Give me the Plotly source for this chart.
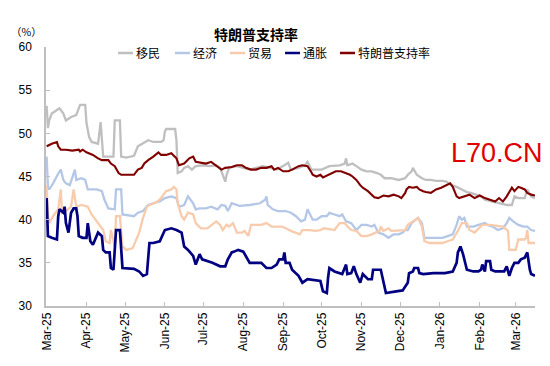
import plotly.graph_objects as go

# ---------------- data ----------------
imm_dates = ["2025-03-01","2025-03-02","2025-03-03","2025-03-05","2025-03-09","2025-03-11","2025-03-14","2025-03-16",
             "2025-03-20","2025-03-24","2025-03-27","2025-03-31","2025-04-01","2025-04-03","2025-04-05","2025-04-10",
             "2025-04-12","2025-04-13","2025-04-14","2025-04-22","2025-04-23","2025-04-27","2025-04-28","2025-05-02",
             "2025-05-08","2025-05-11","2025-05-14","2025-05-19","2025-05-23","2025-05-29","2025-05-31","2025-06-01",
             "2025-06-02","2025-06-09","2025-06-10","2025-06-11","2025-06-14","2025-06-16","2025-06-19","2025-06-22",
             "2025-06-25","2025-07-01","2025-07-06","2025-07-11","2025-07-14","2025-07-16","2025-07-18","2025-07-19",
             "2025-07-21","2025-07-27","2025-08-01","2025-08-06","2025-08-11","2025-08-16","2025-08-22","2025-08-27",
             "2025-09-02","2025-09-05","2025-09-07","2025-09-13","2025-09-18","2025-09-20","2025-09-23","2025-09-26",
             "2025-10-01","2025-10-07","2025-10-15","2025-10-19","2025-10-20","2025-10-21","2025-10-25","2025-10-28",
             "2025-11-01","2025-11-05","2025-11-09","2025-11-13","2025-11-16","2025-11-19","2025-11-24","2025-11-30",
             "2025-12-05","2025-12-07","2025-12-10","2025-12-11","2025-12-14","2025-12-18","2025-12-21","2025-12-25",
             "2025-12-29","2026-01-03","2026-01-06","2026-01-10","2026-01-14","2026-01-18","2026-01-22","2026-01-25",
             "2026-01-29","2026-02-02","2026-02-05","2026-02-10","2026-02-14","2026-02-18","2026-02-22","2026-02-26",
             "2026-02-28","2026-03-03","2026-03-08","2026-03-10","2026-03-13","2026-03-16"]
imm_vals = [53.2,50.6,51.5,52.3,52.7,52.9,52.3,51.5,
            51.9,52.1,53.3,53.3,51.2,49.6,49.0,48.8,
            51.3,48.8,47.3,47.3,51.5,51.5,47.3,47.2,
            47.4,48.5,48.8,49.2,49.0,49.0,49.2,50.2,
            50.5,50.5,49.2,45.4,45.6,46.0,46.2,45.8,
            46.2,46.3,46.2,46.3,46.0,45.2,44.4,45.2,
            46.0,46.2,46.0,45.8,46.0,46.2,46.0,45.8,
            46.3,46.6,45.8,46.0,46.3,46.7,45.8,45.8,
            45.8,46.2,46.3,46.5,47.1,46.3,46.5,46.2,
            45.8,45.6,45.6,45.4,45.2,44.8,44.8,44.6,
            44.8,45.2,45.6,46.0,45.2,44.8,44.6,44.6,
            44.5,44.5,44.4,44.0,43.8,43.5,43.2,43.1,
            42.9,42.7,42.3,42.1,42.0,41.8,41.7,41.7,
            42.7,42.5,42.5,43.5,42.7,42.5]

eco_dates = ["2025-03-01","2025-03-02","2025-03-03","2025-03-06","2025-03-11","2025-03-12","2025-03-14","2025-03-16",
             "2025-03-19","2025-03-21","2025-03-23","2025-03-24","2025-03-28","2025-03-31","2025-04-02","2025-04-09",
             "2025-04-13","2025-04-15","2025-04-18","2025-04-23","2025-04-24","2025-04-28","2025-04-29","2025-05-08",
             "2025-05-11","2025-05-15","2025-05-19","2025-05-23","2025-05-28","2025-06-01","2025-06-06","2025-06-10",
             "2025-06-12","2025-06-16","2025-06-19","2025-06-23","2025-06-25","2025-06-28","2025-07-03","2025-07-07",
             "2025-07-12","2025-07-15","2025-07-18","2025-07-20","2025-07-23","2025-07-29","2025-08-06","2025-08-14",
             "2025-08-18","2025-08-19","2025-08-20","2025-08-24","2025-08-28","2025-09-03","2025-09-07","2025-09-11",
             "2025-09-15","2025-09-18","2025-09-20","2025-09-22","2025-09-24","2025-09-27","2025-10-01","2025-10-05",
             "2025-10-07","2025-10-11","2025-10-15","2025-10-17","2025-10-20","2025-10-24","2025-10-28","2025-11-01",
             "2025-11-05","2025-11-09","2025-11-11","2025-11-14","2025-11-18","2025-11-22","2025-11-26","2025-11-30",
             "2025-12-03","2025-12-05","2025-12-07","2025-12-10","2025-12-12","2025-12-15","2025-12-18","2025-12-20",
             "2025-12-29","2026-01-03","2026-01-07","2026-01-11","2026-01-14","2026-01-16","2026-01-18","2026-01-20",
             "2026-01-22","2026-01-27","2026-01-31","2026-02-05","2026-02-07","2026-02-11","2026-02-15","2026-02-19",
             "2026-02-22","2026-02-24","2026-02-27","2026-03-03","2026-03-07","2026-03-10","2026-03-13","2026-03-16"]
eco_vals = [47.3,43.8,43.5,44.2,45.6,45.8,44.6,44.2,
            44.0,44.8,45.8,44.6,44.8,44.6,43.5,43.5,
            43.3,42.3,41.3,41.2,43.5,43.5,40.6,40.4,
            40.8,41.0,41.7,41.9,42.1,42.5,42.7,42.5,
            41.5,41.7,42.7,41.9,41.2,41.3,41.3,41.5,
            41.2,41.7,41.6,41.0,41.9,41.6,41.7,41.9,
            42.3,42.7,41.7,41.2,41.0,41.0,40.8,40.4,
            39.8,40.0,41.2,40.6,40.0,40.0,40.4,40.4,
            40.8,40.6,40.4,40.6,39.8,39.6,38.8,39.4,
            39.4,39.2,39.4,38.5,38.3,37.9,38.3,38.3,
            38.5,38.8,38.8,39.6,39.8,40.2,39.6,37.9,
            37.9,37.9,38.1,38.3,39.4,40.4,40.0,40.2,
            39.2,39.2,39.4,39.6,39.4,39.2,38.8,39.0,
            39.6,40.2,39.8,39.4,39.2,39.2,38.8,38.7]

trade_dates = ["2025-03-01","2025-03-02","2025-03-03","2025-03-06","2025-03-10","2025-03-12","2025-03-13","2025-03-16",
               "2025-03-20","2025-03-22","2025-03-24","2025-03-28","2025-04-02","2025-04-05","2025-04-10","2025-04-14",
               "2025-04-16","2025-04-19","2025-04-20","2025-04-23","2025-04-24","2025-04-27","2025-04-29","2025-05-02",
               "2025-05-07","2025-05-10","2025-05-12","2025-05-15","2025-05-18","2025-05-20","2025-05-24","2025-05-28",
               "2025-05-31","2025-06-02","2025-06-06","2025-06-08","2025-06-10","2025-06-11","2025-06-14","2025-06-16",
               "2025-06-19","2025-06-23","2025-06-25","2025-06-29","2025-07-04","2025-07-08","2025-07-11","2025-07-14",
               "2025-07-16","2025-07-19","2025-07-21","2025-07-24","2025-07-27","2025-07-31","2025-08-02","2025-08-05",
               "2025-08-07","2025-08-15","2025-08-19","2025-08-23","2025-08-31","2025-09-03","2025-09-07","2025-09-14",
               "2025-09-16","2025-09-22","2025-09-26","2025-09-30","2025-10-03","2025-10-07","2025-10-11","2025-10-15",
               "2025-10-19","2025-10-21","2025-10-24","2025-10-28","2025-11-01","2025-11-05","2025-11-09","2025-11-15",
               "2025-11-16","2025-11-18","2025-11-22","2025-11-24","2025-11-30","2025-12-05","2025-12-07","2025-12-11",
               "2025-12-15","2025-12-18","2025-12-20","2025-12-24","2026-01-03","2026-01-07","2026-01-11","2026-01-15",
               "2026-01-18","2026-01-22","2026-01-24","2026-01-28","2026-02-03","2026-02-09","2026-02-14","2026-02-19",
               "2026-02-23","2026-02-24","2026-03-01","2026-03-03","2026-03-08","2026-03-09","2026-03-10","2026-03-11",
               "2026-03-16"]
trade_vals = [44.0,40.4,39.6,40.4,41.2,43.5,40.8,41.0,
              41.5,43.5,41.5,41.7,41.5,40.6,39.6,38.8,
              37.5,37.3,38.8,36.9,40.4,40.4,36.9,36.5,
              36.7,37.7,38.5,40.2,41.5,41.7,41.9,42.3,
              42.9,43.3,43.5,43.8,43.5,41.9,40.4,40.0,
              40.8,40.6,39.6,39.0,39.0,39.4,39.8,39.4,
              38.8,39.4,39.2,39.6,38.5,38.5,38.7,38.1,
              39.4,39.4,39.6,39.2,39.2,39.0,38.7,38.3,
              38.8,38.8,38.7,38.8,39.0,38.9,38.8,39.6,
              39.6,39.2,38.8,38.7,38.1,38.1,38.3,38.7,
              39.2,38.7,39.0,38.7,38.8,38.8,39.4,39.8,
              40.2,39.2,37.5,37.3,37.3,37.5,37.7,38.7,
              39.6,39.6,38.8,38.5,39.4,39.4,39.3,39.2,
              38.7,36.5,36.5,37.7,37.7,37.9,38.8,37.3,
              37.3]

inf_dates = ["2025-03-01","2025-03-02","2025-03-05","2025-03-09","2025-03-10","2025-03-11","2025-03-14","2025-03-15",
             "2025-03-16","2025-03-18","2025-03-20","2025-03-22","2025-03-24","2025-03-25","2025-03-26","2025-03-29",
             "2025-04-01","2025-04-02","2025-04-04","2025-04-06","2025-04-10","2025-04-13","2025-04-14","2025-04-16",
             "2025-04-19","2025-04-20","2025-04-22","2025-04-23","2025-04-24","2025-04-27","2025-04-28","2025-04-29",
             "2025-05-08","2025-05-12","2025-05-15","2025-05-18","2025-05-20","2025-05-23","2025-05-28","2025-05-31",
             "2025-06-01","2025-06-06","2025-06-10","2025-06-14","2025-06-16","2025-06-19","2025-06-23","2025-06-25",
             "2025-06-28","2025-06-30","2025-07-04","2025-07-08","2025-07-14","2025-07-18","2025-07-20","2025-07-23",
             "2025-07-25","2025-07-28","2025-08-01","2025-08-03","2025-08-06","2025-08-15","2025-08-19","2025-08-23",
             "2025-08-27","2025-08-29","2025-09-01","2025-09-02","2025-09-03","2025-09-06","2025-09-08","2025-09-13",
             "2025-09-16","2025-09-20","2025-09-30","2025-10-02","2025-10-05","2025-10-06","2025-10-07","2025-10-11",
             "2025-10-15","2025-10-17","2025-10-20","2025-10-21","2025-10-24","2025-10-26","2025-10-28","2025-10-31",
             "2025-11-02","2025-11-06","2025-11-09","2025-11-10","2025-11-16","2025-11-18","2025-11-20","2025-11-28",
             "2025-12-03","2025-12-07","2025-12-08","2025-12-11","2025-12-12","2025-12-15","2025-12-16","2025-12-19",
             "2025-12-27","2026-01-05","2026-01-11","2026-01-14","2026-01-15","2026-01-17","2026-01-19","2026-01-22",
             "2026-01-27","2026-01-31","2026-02-02","2026-02-03","2026-02-05","2026-02-06","2026-02-09","2026-02-10",
             "2026-02-13","2026-02-16","2026-02-20","2026-02-22","2026-02-24","2026-02-26","2026-02-28","2026-03-03",
             "2026-03-05","2026-03-08","2026-03-10","2026-03-12","2026-03-13","2026-03-16"]
inf_vals = [42.5,38.1,37.9,37.7,40.4,41.2,40.8,41.5,
            39.6,38.5,40.8,41.3,41.3,40.4,38.1,37.9,
            37.9,39.6,37.5,37.1,38.5,38.1,36.5,36.2,
            36.2,34.4,34.2,37.3,38.8,38.8,36.2,34.4,
            34.3,34.0,33.5,33.7,37.3,37.3,37.5,38.5,
            38.8,39.0,38.8,38.5,36.9,36.5,35.8,34.8,
            36.0,35.4,35.2,35.0,34.6,34.6,35.4,36.2,
            36.3,36.5,36.3,35.8,35.0,35.0,34.4,34.4,
            34.8,35.4,35.4,36.2,35.0,35.0,34.2,33.5,
            32.7,33.1,32.9,31.7,31.5,33.3,34.4,34.0,
            33.8,33.7,34.8,33.7,33.8,34.6,33.7,32.7,
            33.7,33.1,33.1,34.2,34.2,32.7,31.5,31.7,
            31.8,32.7,33.8,34.0,34.4,34.4,33.8,33.7,
            33.8,33.8,34.0,35.0,36.2,36.9,36.0,34.2,
            34.0,34.0,34.2,34.8,34.0,35.2,35.2,34.2,
            34.0,34.0,34.0,34.6,33.5,34.4,35.0,35.0,
            35.4,35.6,36.2,34.2,33.7,33.5]

app_dates = ["2025-03-01","2025-03-03","2025-03-05","2025-03-09","2025-03-10","2025-03-12","2025-03-16","2025-03-21",
             "2025-03-26","2025-03-27","2025-03-29","2025-04-01","2025-04-06","2025-04-10","2025-04-13","2025-04-18",
             "2025-04-20","2025-04-23","2025-04-26","2025-04-28","2025-05-08","2025-05-11","2025-05-14","2025-05-16",
             "2025-05-19","2025-05-23","2025-05-27","2025-05-29","2025-06-02","2025-06-06","2025-06-10","2025-06-12",
             "2025-06-16","2025-06-20","2025-06-23","2025-06-25","2025-06-29","2025-07-03","2025-07-07","2025-07-11",
             "2025-07-15","2025-07-18","2025-07-23","2025-07-27","2025-07-31","2025-08-03","2025-08-07","2025-08-11",
             "2025-08-15","2025-08-19","2025-08-23","2025-08-25","2025-08-28","2025-09-01","2025-09-05","2025-09-08",
             "2025-09-13","2025-09-16","2025-09-20","2025-09-23","2025-09-24","2025-09-27","2025-09-30","2025-10-02",
             "2025-10-06","2025-10-09","2025-10-12","2025-10-16","2025-10-20","2025-10-23","2025-10-25","2025-10-28",
             "2025-10-31","2025-11-02","2025-11-06","2025-11-09","2025-11-11","2025-11-14","2025-11-18","2025-11-22",
             "2025-11-26","2025-11-30","2025-12-02","2025-12-05","2025-12-06","2025-12-08","2025-12-11","2025-12-14",
             "2025-12-16","2025-12-19","2025-12-21","2025-12-25","2025-12-29","2026-01-02","2026-01-06","2026-01-09",
             "2026-01-11","2026-01-14","2026-01-16","2026-01-20","2026-01-24","2026-01-28","2026-02-01","2026-02-05",
             "2026-02-09","2026-02-13","2026-02-16","2026-02-19","2026-02-22","2026-02-26","2026-02-28","2026-03-03",
             "2026-03-05","2026-03-08","2026-03-10","2026-03-13","2026-03-16"]
app_vals = [48.5,48.7,48.8,49.0,48.5,48.1,48.1,48.0,
            48.1,47.9,48.1,47.8,47.5,47.1,46.9,46.9,
            46.5,46.2,45.4,45.2,45.2,45.8,46.0,46.5,
            46.9,47.3,47.8,47.5,47.5,47.7,47.1,46.3,
            46.5,47.1,47.3,46.7,46.6,46.5,46.7,46.3,
            45.8,46.0,46.1,46.3,46.3,46.0,45.8,45.8,
            46.0,46.0,46.2,45.8,46.0,45.6,45.6,45.8,
            46.2,46.3,46.2,45.5,45.2,45.0,45.2,44.9,
            45.2,45.4,45.6,45.6,45.4,45.2,45.0,44.6,
            44.0,43.7,43.3,42.9,42.6,42.5,42.8,42.7,
            42.9,42.7,42.5,43.1,43.5,43.8,43.7,43.8,
            43.5,43.3,43.2,43.1,43.5,43.7,44.0,44.2,
            43.8,42.7,42.5,42.7,42.9,42.5,42.8,42.5,
            42.3,42.1,42.5,42.1,42.7,43.7,43.3,43.8,
            43.7,43.5,43.1,42.9,42.8]

series_names = ["移民", "经济", "贸易", "通胀", "特朗普支持率"]
y_ticks = [30, 35, 40, 45, 50, 55, 60]

# ---------------- figure ----------------
# The page body has an 8px default margin, so the figure is drawn 8px smaller
# and all positions below are expressed relative to the plotting area.
FONT = "Liberation Sans, Arial, Noto Sans CJK SC, sans-serif"
CJK = "Noto Sans CJK SC, sans-serif"
series = [
    (series_names[0], imm_dates, imm_vals, "#BFBFBF", 2.3),
    (series_names[1], eco_dates, eco_vals, "#B4C7E7", 2.3),
    (series_names[2], trade_dates, trade_vals, "#F8CBAD", 2.3),
    (series_names[3], inf_dates, inf_vals, "#000080", 2.7),
    (series_names[4], app_dates, app_vals, "#800000", 2.1),
]

fig = go.Figure()
for name, d, v, c, w in series:
    fig.add_trace(go.Scatter(x=d, y=v, name=name, mode="lines",
                             line=dict(color=c, width=w), showlegend=False))

W, H = 542, 358
L, R, T, B = 38, 15, 39, 60
fig.update_layout(
    width=W, height=H,
    margin=dict(l=L, r=R, t=T, b=B, autoexpand=False),
    paper_bgcolor="white", plot_bgcolor="white",
    font=dict(family=FONT, size=12, color="#000000"),
    title=dict(text="特朗普支持率", x=248/W, xanchor="center", xref="container",
               y=1-27/H, yanchor="middle", yref="container",
               font=dict(family=CJK, size=14, color="#000000", weight="bold")),
    showlegend=False,
)

fig.update_xaxes(
    type="date",
    range=["2025-02-28 12:00", "2026-03-16"],
    tick0="2025-03-01", dtick="M1", tickformat="%b-%y",
    tickangle=-90, ticks="inside", ticklen=4, tickcolor="#BFBFBF",
    showline=True, linecolor="#BFBFBF", linewidth=1.5,
    showgrid=False, zeroline=False,
    tickfont=dict(family=FONT, size=12, color="#000000"),
)
fig.update_yaxes(
    range=[30, 60], tickvals=y_ticks,
    ticks="inside", ticklen=4, tickcolor="#BFBFBF",
    showline=True, linecolor="#BFBFBF", linewidth=1.5,
    showgrid=False, zeroline=False, ticklabelstandoff=10,
    tickfont=dict(family=FONT, size=12, color="#000000"),
)

# custom legend (short line sample + label), plot-area fraction coordinates
PW, PH = W - L - R, H - T - B
leg_y = 1 - 6 / PH
leg_x0 = [72, 129, 184, 239, 294]   # px from left edge of plotting area
for (name, _, _, c, w), x0 in zip(series, leg_x0):
    fig.add_shape(type="line", xref="paper", yref="paper",
                  x0=x0 / PW, x1=(x0 + 15) / PW, y0=leg_y, y1=leg_y,
                  line=dict(color=c, width=2.5))
    fig.add_annotation(text=name, xref="paper", yref="paper", x=(x0 + 16) / PW, y=leg_y,
                       xanchor="left", yanchor="middle", showarrow=False,
                       font=dict(family=CJK, size=12, color="#000000"))

fig.add_annotation(text="（%）", xref="paper", yref="paper", x=(1 - L) / PW, y=1 + 15 / PH,
                   xanchor="left", yanchor="middle", showarrow=False,
                   font=dict(family=CJK, size=10.5, color="#000000"))
fig.add_annotation(text="L70.CN", xref="paper", yref="paper", x=1 + 10 / PW, y=(306 - 153) / PH,
                   xanchor="right", yanchor="middle", showarrow=False,
                   font=dict(family=FONT, size=27, color="#E00000"))

fig.write_html("out.html")
